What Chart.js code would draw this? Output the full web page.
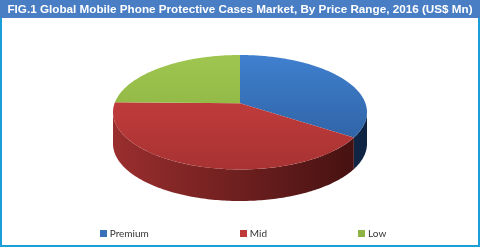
<!DOCTYPE html>
<html><head><meta charset="utf-8">
<script src="https://cdn.jsdelivr.net/npm/chart.js@4.4.0/dist/chart.umd.min.js"></script>
<style>
html,body{margin:0;padding:0;background:#fff;}
#wrap{position:relative;width:480px;height:247px;overflow:hidden;}
#c{position:absolute;left:0;top:0;}
#legend{position:absolute;left:3px;top:226px;width:480px;height:14px;display:flex;justify-content:center;align-items:center;gap:91px;font:10px Lato,"Liberation Sans",sans-serif;color:#333333;}
.item{display:flex;align-items:center;white-space:nowrap;}
.box{width:7px;height:7px;margin-right:3px;}
</style></head><body>
<div id="wrap"><canvas id="c" width="480" height="247"></canvas><div id="legend"></div></div>
<script>
const categories = ['Premium', 'Mid', 'Low'];
const values = [34.5, 40.8, 24.7];
const titleText = 'FIG.1 Global Mobile Phone Protective Cases Market, By Price Range, 2016 (US$ Mn)';

const topColors = [['#3f80cf', '#2b5a98'], ['#d04242', '#a83232'], ['#9fc650', '#84a93c']];
const sideColors = [['#22426e', '#0f2442'], ['#9a2e2e', '#421010'], ['#6a8a2c', '#3c5218']];
const legendColors = ['#3a70b8', '#c0393a', '#8db342'];

// perspective parameters
const K = 0.158, TILT = 0.445, PIE_FRAC = 254 / 480;
const TITLE_SIZE = 11.7;

const pie3d = {
  id: 'pie3d',
  beforeDraw(chart) {
    const ctx = chart.ctx;
    ctx.save();
    ctx.fillStyle = '#ffffff';
    ctx.fillRect(0, 0, chart.width, chart.height);
    ctx.fillStyle = '#4a7ec4';
    ctx.fillRect(0, 0, chart.width, 18);
    ctx.fillStyle = '#1a9fd9';
    ctx.fillRect(0, 18, 2, chart.height - 18);
    ctx.fillRect(chart.width - 2, 18, 2, chart.height - 18);
    ctx.fillRect(0, chart.height - 2, chart.width, 2);
    ctx.restore();
  },
  beforeDatasetsDraw(chart) {
    const ctx = chart.ctx;
    const ca = chart.chartArea;
    const w = (ca.right - ca.left) * PIE_FRAC, h = ca.bottom - ca.top;
    const cx = (ca.left + ca.right) / 2;
    const left = cx - w / 2, right = cx + w / 2;
    const A = (w / 2) * Math.sqrt(1 - K * K);
    const b = A * TILT;
    const apexY = ca.top + b / (1 + K);
    const depth = h - b / (1 + K) - b / (1 - K);
    const P = (t) => {
      const s = Math.sin(t), c = Math.cos(t), d = 1 - K * s;
      return [cx + A * c / d, apexY + b * s / d];
    };
    const arcs = chart.getDatasetMeta(0).data;
    const vis0 = Math.asin(K), vis1 = Math.PI - Math.asin(K);
    arcs.forEach((arc, i) => {
      const a1 = arc.startAngle, a2 = arc.endAngle;
      const segs = [];
      for (const off of [0, 2 * Math.PI, -2 * Math.PI]) {
        const s = Math.max(a1 + off, vis0), e = Math.min(a2 + off, vis1);
        if (e > s) segs.push([s, e]);
      }
      segs.forEach(([s, e]) => {
        const n = Math.max(4, Math.ceil((e - s) * 60));
        ctx.beginPath();
        for (let j = 0; j <= n; j++) {
          const p = P(s + (e - s) * j / n);
          j ? ctx.lineTo(p[0], p[1]) : ctx.moveTo(p[0], p[1]);
        }
        for (let j = n; j >= 0; j--) {
          const p = P(s + (e - s) * j / n);
          ctx.lineTo(p[0], p[1] + depth);
        }
        ctx.closePath();
        const g = ctx.createLinearGradient(left, 0, right, 0);
        g.addColorStop(0, sideColors[i][0]);
        g.addColorStop(1, sideColors[i][1]);
        ctx.fillStyle = g;
        ctx.fill();
      });
    });
    arcs.forEach((arc, i) => {
      const a1 = arc.startAngle, a2 = arc.endAngle;
      const n = Math.max(4, Math.ceil((a2 - a1) * 60));
      ctx.beginPath();
      ctx.moveTo(cx, apexY);
      for (let j = 0; j <= n; j++) {
        const p = P(a1 + (a2 - a1) * j / n);
        ctx.lineTo(p[0], p[1]);
      }
      ctx.closePath();
      const g = ctx.createLinearGradient(0, apexY - b / (1 + K), 0, apexY + b / (1 - K));
      g.addColorStop(0, topColors[i][0]);
      g.addColorStop(1, topColors[i][1]);
      ctx.fillStyle = g;
      ctx.fill();
    });
    return false;
  }
};

const chart = new Chart(document.getElementById('c'), {
  type: 'pie',
  data: {
    labels: categories,
    datasets: [{ data: values, backgroundColor: legendColors, borderWidth: 0, clip: false }]
  },
  options: {
    responsive: false,
    animation: false,
    layout: { padding: { left: 0, right: 0, top: 0, bottom: 46 } },
    plugins: {
      legend: { display: false },
      tooltip: { enabled: false },
      title: {
        display: true,
        text: titleText,
        color: '#ffffff',
        font: { family: 'Arial', size: TITLE_SIZE, weight: 'bold', lineHeight: 1.2 },
        padding: { top: 2.5, bottom: 55 - 2.5 - TITLE_SIZE * 1.2 }
      }
    }
  },
  plugins: [pie3d]
});

const leg = document.getElementById('legend');
chart.data.labels.forEach((lab, i) => {
  const it = document.createElement('div'); it.className = 'item';
  const bx = document.createElement('span'); bx.className = 'box';
  bx.style.background = chart.data.datasets[0].backgroundColor[i];
  const tx = document.createElement('span'); tx.textContent = lab;
  it.appendChild(bx); it.appendChild(tx); leg.appendChild(it);
});
</script>
</body></html>
